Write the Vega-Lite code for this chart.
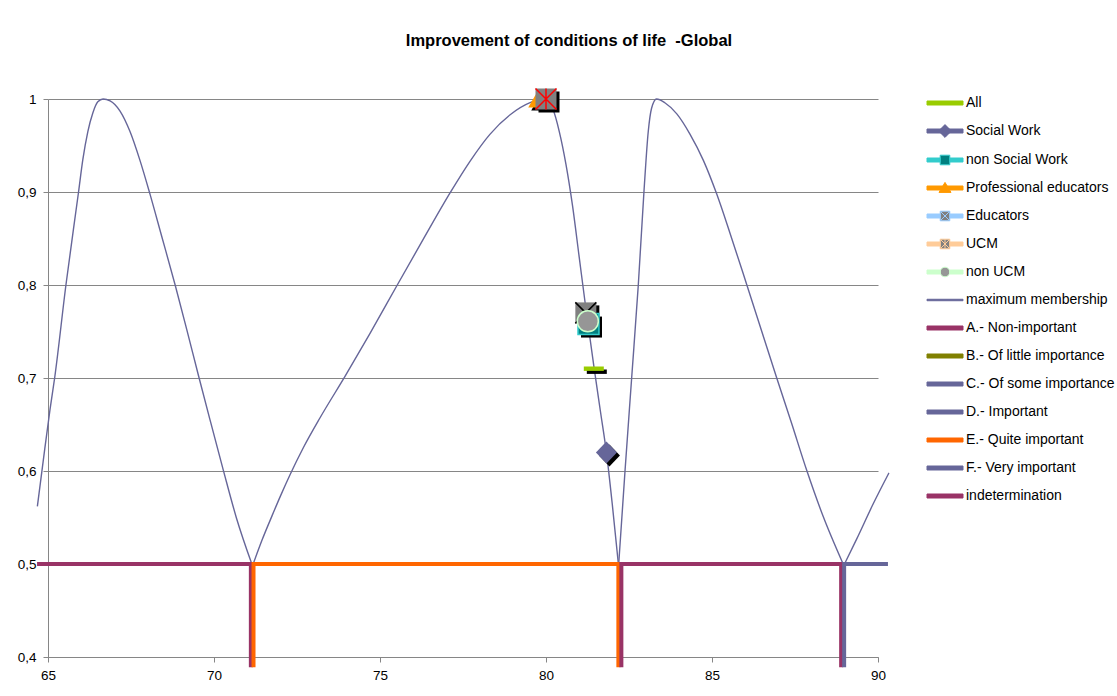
{
  "$schema": "https://vega.github.io/schema/vega-lite/v6.json",
  "width": 830,
  "height": 558,
  "autosize": {"type": "none"},
  "padding": {"left": 48, "top": 99, "right": 239, "bottom": 39},
  "background": "white",
  "title": {
    "text": "Improvement of conditions of life\u00a0 -Global",
    "font": "Liberation Sans",
    "fontSize": 16.5,
    "fontWeight": "bold",
    "color": "#000000",
    "anchor": "middle",
    "frame": "group",
    "dx": 106,
    "offset": 36.5
  },
  "config": {"view": {"stroke": null}, "font": "Liberation Sans"},
  "datasets": {
    "curve": [
      {"series": "maximum membership", "seg": 1, "x": 64.68, "y": 0.562},
      {"series": "maximum membership", "seg": 1, "x": 64.86, "y": 0.612},
      {"series": "maximum membership", "seg": 1, "x": 65.06, "y": 0.666},
      {"series": "maximum membership", "seg": 1, "x": 65.2, "y": 0.7},
      {"series": "maximum membership", "seg": 1, "x": 65.54, "y": 0.8},
      {"series": "maximum membership", "seg": 1, "x": 65.92, "y": 0.9},
      {"series": "maximum membership", "seg": 1, "x": 66.05, "y": 0.935},
      {"series": "maximum membership", "seg": 1, "x": 66.2, "y": 0.965},
      {"series": "maximum membership", "seg": 1, "x": 66.35, "y": 0.985},
      {"series": "maximum membership", "seg": 1, "x": 66.5, "y": 0.997},
      {"series": "maximum membership", "seg": 1, "x": 66.66, "y": 1.0},
      {"series": "maximum membership", "seg": 1, "x": 66.87, "y": 0.998},
      {"series": "maximum membership", "seg": 1, "x": 67.17, "y": 0.987},
      {"series": "maximum membership", "seg": 1, "x": 67.47, "y": 0.965},
      {"series": "maximum membership", "seg": 1, "x": 67.77, "y": 0.934},
      {"series": "maximum membership", "seg": 1, "x": 68.07, "y": 0.898},
      {"series": "maximum membership", "seg": 1, "x": 68.42, "y": 0.853},
      {"series": "maximum membership", "seg": 1, "x": 68.83, "y": 0.8},
      {"series": "maximum membership", "seg": 1, "x": 69.18, "y": 0.752},
      {"series": "maximum membership", "seg": 1, "x": 69.53, "y": 0.703},
      {"series": "maximum membership", "seg": 1, "x": 69.88, "y": 0.655},
      {"series": "maximum membership", "seg": 1, "x": 70.28, "y": 0.601},
      {"series": "maximum membership", "seg": 1, "x": 70.68, "y": 0.549},
      {"series": "maximum membership", "seg": 1, "x": 71.14, "y": 0.5},
      {"series": "maximum membership", "seg": 2, "x": 71.18, "y": 0.5},
      {"series": "maximum membership", "seg": 2, "x": 71.45, "y": 0.526},
      {"series": "maximum membership", "seg": 2, "x": 71.75, "y": 0.552},
      {"series": "maximum membership", "seg": 2, "x": 72.0, "y": 0.573},
      {"series": "maximum membership", "seg": 2, "x": 72.29, "y": 0.596},
      {"series": "maximum membership", "seg": 2, "x": 72.69, "y": 0.625},
      {"series": "maximum membership", "seg": 2, "x": 73.19, "y": 0.657},
      {"series": "maximum membership", "seg": 2, "x": 73.95, "y": 0.702},
      {"series": "maximum membership", "seg": 2, "x": 74.7, "y": 0.748},
      {"series": "maximum membership", "seg": 2, "x": 75.52, "y": 0.8},
      {"series": "maximum membership", "seg": 2, "x": 76.3, "y": 0.849},
      {"series": "maximum membership", "seg": 2, "x": 77.11, "y": 0.899},
      {"series": "maximum membership", "seg": 2, "x": 77.71, "y": 0.933},
      {"series": "maximum membership", "seg": 2, "x": 78.31, "y": 0.962},
      {"series": "maximum membership", "seg": 2, "x": 78.92, "y": 0.983},
      {"series": "maximum membership", "seg": 2, "x": 79.52, "y": 0.996},
      {"series": "maximum membership", "seg": 2, "x": 80.0, "y": 1.0},
      {"series": "maximum membership", "seg": 2, "x": 80.2, "y": 0.99},
      {"series": "maximum membership", "seg": 2, "x": 80.4, "y": 0.965},
      {"series": "maximum membership", "seg": 2, "x": 80.6, "y": 0.93},
      {"series": "maximum membership", "seg": 2, "x": 80.8, "y": 0.885},
      {"series": "maximum membership", "seg": 2, "x": 81.0, "y": 0.83},
      {"series": "maximum membership", "seg": 2, "x": 81.2, "y": 0.775},
      {"series": "maximum membership", "seg": 2, "x": 81.44, "y": 0.713},
      {"series": "maximum membership", "seg": 2, "x": 81.64, "y": 0.664},
      {"series": "maximum membership", "seg": 2, "x": 81.82, "y": 0.62},
      {"series": "maximum membership", "seg": 2, "x": 82.0, "y": 0.563},
      {"series": "maximum membership", "seg": 2, "x": 82.18, "y": 0.5},
      {"series": "maximum membership", "seg": 3, "x": 82.19, "y": 0.5},
      {"series": "maximum membership", "seg": 3, "x": 82.38, "y": 0.6},
      {"series": "maximum membership", "seg": 3, "x": 82.58, "y": 0.7},
      {"series": "maximum membership", "seg": 3, "x": 82.78, "y": 0.8},
      {"series": "maximum membership", "seg": 3, "x": 82.95, "y": 0.9},
      {"series": "maximum membership", "seg": 3, "x": 83.08, "y": 0.965},
      {"series": "maximum membership", "seg": 3, "x": 83.18, "y": 0.99},
      {"series": "maximum membership", "seg": 3, "x": 83.33, "y": 1.0},
      {"series": "maximum membership", "seg": 3, "x": 83.58, "y": 0.996},
      {"series": "maximum membership", "seg": 3, "x": 83.94, "y": 0.984},
      {"series": "maximum membership", "seg": 3, "x": 84.34, "y": 0.962},
      {"series": "maximum membership", "seg": 3, "x": 84.74, "y": 0.934},
      {"series": "maximum membership", "seg": 3, "x": 85.14, "y": 0.898},
      {"series": "maximum membership", "seg": 3, "x": 85.54, "y": 0.856},
      {"series": "maximum membership", "seg": 3, "x": 86.05, "y": 0.8},
      {"series": "maximum membership", "seg": 3, "x": 86.5, "y": 0.75},
      {"series": "maximum membership", "seg": 3, "x": 86.95, "y": 0.7},
      {"series": "maximum membership", "seg": 3, "x": 87.4, "y": 0.651},
      {"series": "maximum membership", "seg": 3, "x": 87.85, "y": 0.601},
      {"series": "maximum membership", "seg": 3, "x": 88.35, "y": 0.551},
      {"series": "maximum membership", "seg": 3, "x": 88.95, "y": 0.5},
      {"series": "maximum membership", "seg": 4, "x": 88.99, "y": 0.5},
      {"series": "maximum membership", "seg": 4, "x": 89.36, "y": 0.527},
      {"series": "maximum membership", "seg": 4, "x": 89.86, "y": 0.565},
      {"series": "maximum membership", "seg": 4, "x": 90.33, "y": 0.598}
    ],
    "steps": [
      {"series": "A.- Non-important", "i": 0, "x": 64.67, "y": 0.5},
      {"series": "A.- Non-important", "i": 1, "x": 71.11, "y": 0.5},
      {"series": "A.- Non-important", "i": 2, "x": 71.11, "y": 0.389},
      {"series": "E.- Quite important", "i": 0, "x": 71.19, "y": 0.389},
      {"series": "E.- Quite important", "i": 1, "x": 71.19, "y": 0.5},
      {"series": "E.- Quite important", "i": 2, "x": 82.18, "y": 0.5},
      {"series": "E.- Quite important", "i": 3, "x": 82.18, "y": 0.389},
      {"series": "indetermination", "i": 0, "x": 82.27, "y": 0.389},
      {"series": "indetermination", "i": 1, "x": 82.27, "y": 0.5},
      {"series": "indetermination", "i": 2, "x": 88.89, "y": 0.5},
      {"series": "indetermination", "i": 3, "x": 88.89, "y": 0.389},
      {"series": "F.- Very important", "i": 0, "x": 88.98, "y": 0.389},
      {"series": "F.- Very important", "i": 1, "x": 88.98, "y": 0.5},
      {"series": "F.- Very important", "i": 2, "x": 90.3, "y": 0.5}
    ],
    "pts": [
      {"series": "All", "x": 81.44, "y": 0.71},
      {"series": "Social Work", "x": 81.82, "y": 0.62},
      {"series": "non Social Work", "x": 81.28, "y": 0.758},
      {"series": "Professional educators", "x": 79.78, "y": 1.0},
      {"series": "Educators", "x": 81.2, "y": 0.77},
      {"series": "UCM", "x": 80.0, "y": 1.0},
      {"series": "non UCM", "x": 81.26, "y": 0.761}
    ]
  },
  "encoding": {
    "x": {
      "field": "x",
      "type": "quantitative",
      "scale": {"domain": [65, 90], "nice": false, "zero": false},
      "axis": {
        "title": null,
        "values": [65, 70, 75, 80, 85, 90],
        "grid": false,
        "tickSize": 5,
        "tickColor": "#868686",
        "domainColor": "#868686",
        "labelFont": "Liberation Sans",
        "labelFontSize": 13.5,
        "labelColor": "#000000",
        "labelPadding": 6,
        "labelFlush": false
      }
    },
    "y": {
      "field": "y",
      "type": "quantitative",
      "scale": {"domain": [0.4, 1], "nice": false, "zero": false},
      "axis": {
        "title": null,
        "values": [0.4, 0.5, 0.6, 0.7, 0.8, 0.9, 1],
        "grid": true,
        "gridColor": "#868686",
        "tickSize": 5,
        "tickColor": "#868686",
        "domainColor": "#868686",
        "labelFont": "Liberation Sans",
        "labelFontSize": 13.5,
        "labelColor": "#000000",
        "labelPadding": 7,
        "labelExpr": "replace(format(datum.value, '.1~f'), '.', ',')"
      }
    }
  },
  "layer": [
    {
      "data": {"name": "curve"},
      "mark": {"type": "line", "interpolate": "monotone", "strokeWidth": 1.4},
      "encoding": {
        "detail": {"field": "seg", "type": "nominal"},
        "stroke": {
          "field": "series",
          "type": "nominal",
          "scale": {
            "domain": ["All", "Social Work", "non Social Work", "Professional educators", "Educators", "UCM", "non UCM", "maximum membership", "A.- Non-important", "B.- Of little importance", "C.- Of some importance", "D.- Important", "E.- Quite important", "F.- Very important", "indetermination"],
            "range": ["#99CC00", "#666699", "#33CCCC", "#FF9900", "#99CCFF", "#FFCC99", "#CCFFCC", "#666699", "#993366", "#808000", "#666699", "#666699", "#FF6600", "#666699", "#993366"]
          },
          "legend": {
            "title": null,
            "orient": "none",
            "legendX": 888.5,
            "legendY": -4.5,
            "padding": 0,
            "symbolSize": 256,
            "symbolStrokeWidth": 1,
            "symbolOpacity": 1,
            "rowPadding": 12,
            "labelOffset": 12.5,
            "labelFont": "Liberation Sans",
            "labelFontSize": 14,
            "labelColor": "#000000",
            "labelLimit": 300,
            "encode": {
              "symbols": {
                "update": {
                  "shape": {"signal": "['M-2.25,-0.25H2.25V0.25H-2.25Z','M-2.25,-0.25H2.25V0.25H-2.25ZM0,-0.8L0.8,0L0,0.8L-0.8,0Z','M-2.25,-0.25H-0.6V0.25H-2.25ZM0.6,-0.25H2.25V0.25H0.6ZM-0.6,-0.6H0.6V0.6H-0.6Z','M-2.25,-0.25H2.25V0.25H-2.25ZM0,-0.7L0.75,0.55H-0.75Z','M-2.25,-0.25H-0.6V0.25H-2.25ZM0.6,-0.25H2.25V0.25H0.6ZM-0.6,-0.6H0.6V0.6H-0.6ZM-0.6,-0.6L0.6,0.6M0.6,-0.6L-0.6,0.6','M-2.25,-0.25H-0.6V0.25H-2.25ZM0.6,-0.25H2.25V0.25H0.6ZM-0.6,-0.6H0.6V0.6H-0.6ZM-0.6,-0.6L0.6,0.6M0.6,-0.6L-0.6,0.6M0,-0.6V0.6','M-2.25,-0.25H-0.6V0.25H-2.25ZM0.6,-0.25H2.25V0.25H0.6ZM0.6,0A0.6,0.6,0,1,1,-0.6,0A0.6,0.6,0,1,1,0.6,0Z','M-2.25,-0.09H2.25V0.09H-2.25Z','M-2.25,-0.25H2.25V0.25H-2.25Z','M-2.25,-0.25H2.25V0.25H-2.25Z','M-2.25,-0.25H2.25V0.25H-2.25Z','M-2.25,-0.25H2.25V0.25H-2.25Z','M-2.25,-0.25H2.25V0.25H-2.25Z','M-2.25,-0.25H2.25V0.25H-2.25Z','M-2.25,-0.25H2.25V0.25H-2.25Z'][datum.index]"},
                  "fill": {"signal": "['#99CC00','#666699',{gradient:'linear',x1:0,y1:0,x2:1,y2:0,stops:[{offset:0,color:'#33CCCC'},{offset:0.355,color:'#33CCCC'},{offset:0.355,color:'#008080'},{offset:0.645,color:'#008080'},{offset:0.645,color:'#33CCCC'},{offset:1,color:'#33CCCC'}]},'#FF9900',{gradient:'linear',x1:0,y1:0,x2:1,y2:0,stops:[{offset:0,color:'#99CCFF'},{offset:0.355,color:'#99CCFF'},{offset:0.355,color:'#808080'},{offset:0.645,color:'#808080'},{offset:0.645,color:'#99CCFF'},{offset:1,color:'#99CCFF'}]},{gradient:'linear',x1:0,y1:0,x2:1,y2:0,stops:[{offset:0,color:'#FFCC99'},{offset:0.355,color:'#FFCC99'},{offset:0.355,color:'#808080'},{offset:0.645,color:'#808080'},{offset:0.645,color:'#FFCC99'},{offset:1,color:'#FFCC99'}]},{gradient:'linear',x1:0,y1:0,x2:1,y2:0,stops:[{offset:0,color:'#CCFFCC'},{offset:0.355,color:'#CCFFCC'},{offset:0.355,color:'#969696'},{offset:0.645,color:'#969696'},{offset:0.645,color:'#CCFFCC'},{offset:1,color:'#CCFFCC'}]},'#666699','#993366','#808000','#666699','#666699','#FF6600','#666699','#993366'][datum.index]"},
                  "stroke": {"signal": "['transparent','transparent','#33CCCC','transparent',{gradient:'linear',x1:0,y1:0,x2:1,y2:0,stops:[{offset:0,color:'#99CCFF'},{offset:0.355,color:'#99CCFF'},{offset:0.355,color:'#000000'},{offset:0.645,color:'#000000'},{offset:0.645,color:'#99CCFF'},{offset:1,color:'#99CCFF'}]},{gradient:'linear',x1:0,y1:0,x2:1,y2:0,stops:[{offset:0,color:'#FFCC99'},{offset:0.355,color:'#FFCC99'},{offset:0.355,color:'#FF0000'},{offset:0.645,color:'#FF0000'},{offset:0.645,color:'#FFCC99'},{offset:1,color:'#FFCC99'}]},'#CCFFCC','transparent','transparent','transparent','transparent','transparent','transparent','transparent','transparent'][datum.index]"},
                  "strokeWidth": {"value": 1},
                  "opacity": {"value": 1}
                }
              }
            }
          }
        }
      }
    },
    {
      "data": {"name": "steps"},
      "mark": {"type": "line", "strokeWidth": 4, "strokeCap": "butt"},
      "encoding": {
        "order": {"field": "i", "type": "quantitative"},
        "stroke": {
          "field": "series",
          "type": "nominal",
          "scale": {
            "domain": ["All", "Social Work", "non Social Work", "Professional educators", "Educators", "UCM", "non UCM", "maximum membership", "A.- Non-important", "B.- Of little importance", "C.- Of some importance", "D.- Important", "E.- Quite important", "F.- Very important", "indetermination"],
            "range": ["#99CC00", "#666699", "#33CCCC", "#FF9900", "#99CCFF", "#FFCC99", "#CCFFCC", "#666699", "#993366", "#808000", "#666699", "#666699", "#FF6600", "#666699", "#993366"]
          },
          "legend": null
        }
      }
    },
    {
      "data": {"name": "pts"},
      "transform": [{"filter": {"field": "series", "oneOf": ["All", "Social Work", "non Social Work", "Professional educators", "Educators", "UCM"]}}],
      "mark": {"type": "point", "filled": true, "color": "#000000", "opacity": 1, "size": 400, "strokeWidth": 0, "xOffset": 3, "yOffset": 3},
      "encoding": {
        "shape": {
          "field": "series",
          "type": "nominal",
          "scale": {
            "domain": ["All", "Social Work", "non Social Work", "Professional educators", "Educators", "UCM", "non UCM"],
            "range": ["M-1,-0.22H1V0.22H-1Z", "M0,-1.1L1.05,0L0,1.1L-1.05,0Z", "M-1.05,-1.05H1.05V1.05H-1.05Z", "M0,-0.95L1.05,0.85H-1.05Z", "M-1.05,-1.05H1.05V1.05H-1.05Z", "M-1.05,-1.05H1.05V1.05H-1.05Z", "M1.05,0A1.05,1.05,0,1,1,-1.05,0A1.05,1.05,0,1,1,1.05,0Z"]
          },
          "legend": null
        }
      }
    },
    {
      "data": {"name": "pts"},
      "transform": [{"filter": {"field": "series", "oneOf": ["All", "Social Work", "non Social Work", "Professional educators", "Educators"]}}],
      "mark": {"type": "point", "filled": true, "opacity": 1, "size": 400, "strokeWidth": 1.5},
      "encoding": {
        "shape": {
          "field": "series",
          "type": "nominal",
          "scale": {
            "domain": ["All", "Social Work", "non Social Work", "Professional educators", "Educators", "UCM", "non UCM"],
            "range": ["M-1,-0.22H1V0.22H-1Z", "M0,-1.1L1.05,0L0,1.1L-1.05,0Z", "M-1.05,-1.05H1.05V1.05H-1.05Z", "M0,-0.95L1.05,0.85H-1.05Z", "M-1.05,-1.05H1.05V1.05H-1.05Z", "M-1.05,-1.05H1.05V1.05H-1.05Z", "M1.05,0A1.05,1.05,0,1,1,-1.05,0A1.05,1.05,0,1,1,1.05,0Z"]
          },
          "legend": null
        },
        "fill": {
          "field": "series",
          "type": "nominal",
          "scale": {
            "domain": ["All", "Social Work", "non Social Work", "Professional educators", "Educators", "UCM", "non UCM"],
            "range": ["#99CC00", "#666699", "#008080", "#FF9900", "#808080", "#808080", "#969696"]
          },
          "legend": null
        },
        "stroke": {
          "condition": {"test": "datum.series === 'non Social Work'", "value": "#33CCCC"},
          "value": "transparent"
        }
      }
    },
    {
      "data": {"name": "pts"},
      "transform": [{"filter": "datum.series === 'Educators'"}],
      "mark": {"type": "point", "shape": "M-1.05,-1.05L1.05,1.05M1.05,-1.05L-1.05,1.05", "filled": false, "color": "#000000", "strokeWidth": 1.5, "opacity": 1, "size": 400},
      "encoding": {}
    },
    {
      "data": {"name": "pts"},
      "transform": [{"filter": {"field": "series", "oneOf": ["UCM", "non UCM"]}}],
      "mark": {"type": "point", "filled": true, "opacity": 1, "size": 400, "strokeWidth": 1.5},
      "encoding": {
        "shape": {
          "field": "series",
          "type": "nominal",
          "scale": {
            "domain": ["All", "Social Work", "non Social Work", "Professional educators", "Educators", "UCM", "non UCM"],
            "range": ["M-1,-0.22H1V0.22H-1Z", "M0,-1.1L1.05,0L0,1.1L-1.05,0Z", "M-1.05,-1.05H1.05V1.05H-1.05Z", "M0,-0.95L1.05,0.85H-1.05Z", "M-1.05,-1.05H1.05V1.05H-1.05Z", "M-1.05,-1.05H1.05V1.05H-1.05Z", "M1.05,0A1.05,1.05,0,1,1,-1.05,0A1.05,1.05,0,1,1,1.05,0Z"]
          },
          "legend": null
        },
        "fill": {
          "field": "series",
          "type": "nominal",
          "scale": {
            "domain": ["All", "Social Work", "non Social Work", "Professional educators", "Educators", "UCM", "non UCM"],
            "range": ["#99CC00", "#666699", "#008080", "#FF9900", "#808080", "#808080", "#969696"]
          },
          "legend": null
        },
        "stroke": {
          "condition": {"test": "datum.series === 'non UCM'", "value": "#CCFFCC"},
          "value": "transparent"
        }
      }
    },
    {
      "data": {"name": "pts"},
      "transform": [{"filter": "datum.series === 'UCM'"}],
      "mark": {"type": "point", "shape": "M-1.05,-1.05L1.05,1.05M1.05,-1.05L-1.05,1.05M0,-1.05V1.05", "filled": false, "color": "#FF0000", "strokeWidth": 1.5, "opacity": 1, "size": 400},
      "encoding": {}
    }
  ]
}
